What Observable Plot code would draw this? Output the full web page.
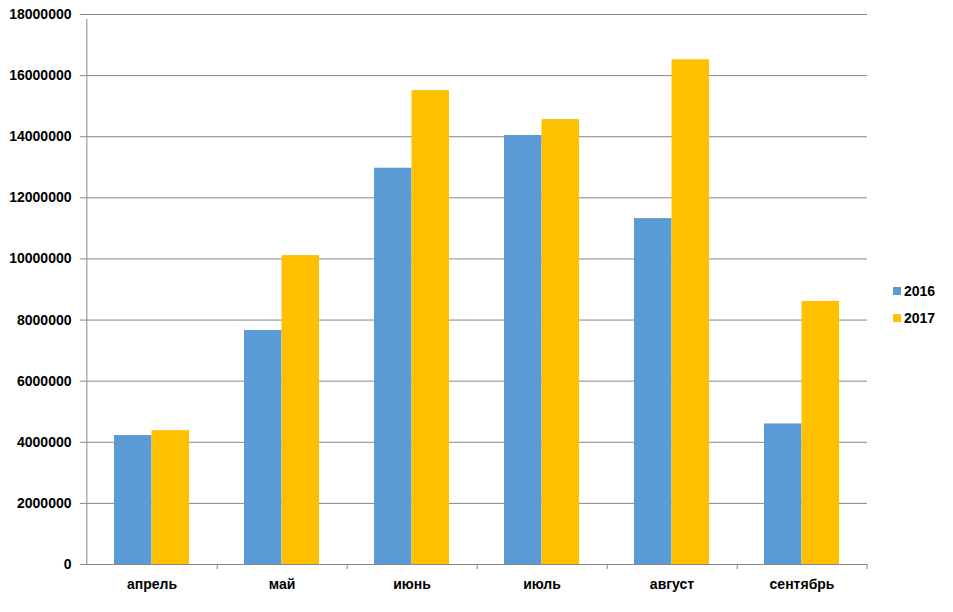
<!DOCTYPE html>
<html>
<head>
<meta charset="utf-8">
<script src="https://cdn.jsdelivr.net/npm/d3@7"></script>
<script src="https://cdn.jsdelivr.net/npm/@observablehq/plot@0.6"></script>
<style>
  html, body { margin: 0; padding: 0; background: #fff; }
  #wrap { position: relative; width: 953px; height: 612px; font-family: "Liberation Sans", Arial, sans-serif; }
  #legend { position: absolute; left: 893px; top: 277px; font-weight: bold; font-size: 14px; color: #000; }
  #legend .item { display: flex; align-items: center; height: 27px; }
  #legend .sw { width: 8px; height: 8px; margin-right: 3px; }
</style>
</head>
<body>
<div id="wrap"><div id="legend"></div></div>
<script>
const months = ["апрель", "май", "июнь", "июль", "август", "сентябрь"];
const years = ["2016", "2017"];
const values2016 = [4220000, 7660000, 12970000, 14040000, 11320000, 4600000];
const values2017 = [4380000, 10110000, 15510000, 14560000, 16520000, 8610000];
const yTicks = [0, 2000000, 4000000, 6000000, 8000000, 10000000, 12000000, 14000000, 16000000, 18000000];
const colors = ["#5B9BD5", "#FFC000"];

const data2016 = months.map((m, i) => ({month: m, year: years[0], value: values2016[i]}));
const data2017 = months.map((m, i) => ({month: m, year: years[1], value: values2017[i]}));

const W = 953, H = 612, ML = 85, MR = 86, MT = 14, MB = 48;
const padInner = 0.424, padOuter = 0.212;
const step = (W - ML - MR) / months.length;
const bw = step * (1 - padInner);
const half = bw / 2;
const grid = "#868686";

const chart = Plot.plot({
  width: W,
  height: H,
  marginLeft: ML,
  marginRight: MR,
  marginTop: MT,
  marginBottom: MB,
  style: {fontFamily: "'Liberation Sans', Arial, sans-serif", fontSize: "14px", fontWeight: "bold", color: "#000", background: "#fff"},
  x: {type: "band", domain: months, paddingInner: padInner, paddingOuter: padOuter, align: 0.5, label: null},
  y: {domain: [0, 18000000], label: null},
  color: {domain: years, range: colors},
  marks: [
    Plot.ruleY(yTicks, {stroke: grid, strokeWidth: 1}),
    Plot.ruleX([months[0]], {dx: -step / 2, y1: 0, y2: 18000000, stroke: grid, insetBottom: -5}),
    Plot.barY(data2016, {x: "month", y: "value", fill: "year", insetRight: half}),
    Plot.barY(data2017, {x: "month", y: "value", fill: "year", insetLeft: half}),
    Plot.axisY({ticks: yTicks, tickFormat: d3.format("d"), tickSize: 5, tickPadding: 9, stroke: grid, fill: "#000", label: null}),
    Plot.axisX({tickSize: 0, tickPadding: 15, fill: "#000", label: null}),
    Plot.axisX({tickSize: 5, text: null, dx: step / 2, stroke: grid, label: null})
  ]
});
document.getElementById("wrap").prepend(chart);

const legend = document.getElementById("legend");
years.forEach((y, i) => {
  const item = document.createElement("div");
  item.className = "item";
  const sw = document.createElement("span");
  sw.className = "sw";
  sw.style.background = colors[i];
  const t = document.createElement("span");
  t.textContent = y;
  item.append(sw, t);
  legend.append(item);
});
</script>
</body>
</html>
